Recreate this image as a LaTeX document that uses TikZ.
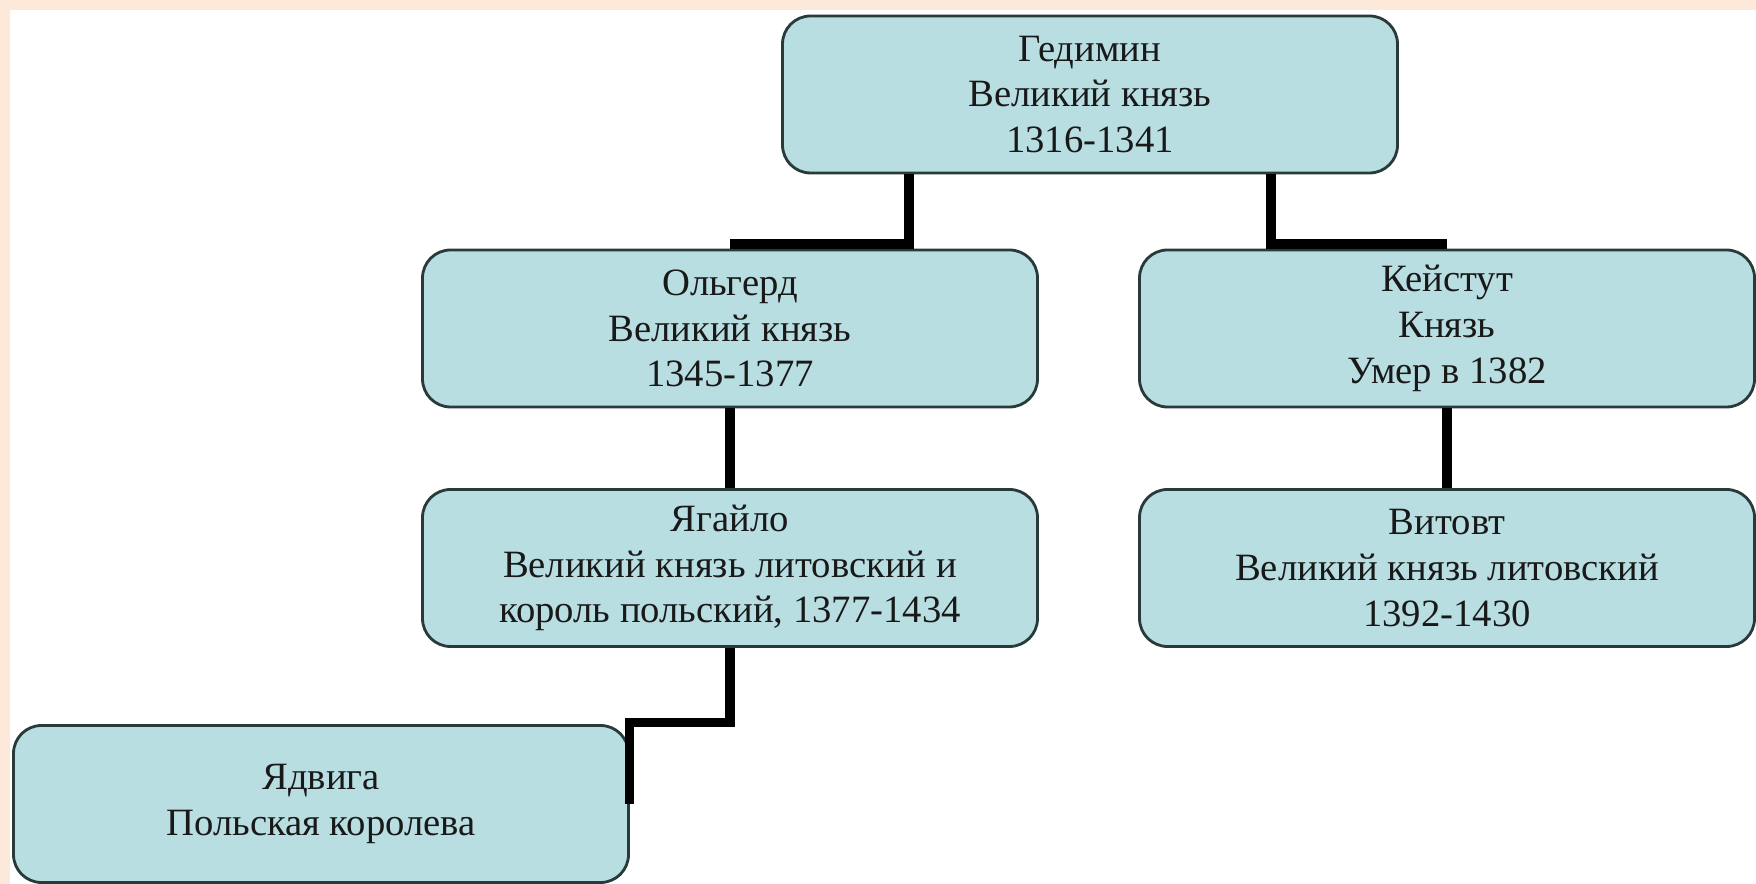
\documentclass[tikz,border=0pt]{standalone}
\usepackage{fontspec}
\setmainfont{Liberation Serif}
\usepackage{xcolor}
\definecolor{peach}{RGB}{252,233,218}
\definecolor{paleteal}{RGB}{185,222,226}
\definecolor{darkslate}{RGB}{40,58,58}
\newcommand{\boxw}{6.15}
\newcommand{\boxh}{1.57}
\newcommand{\armx}{1.81}

\begin{document}
\begin{tikzpicture}[every node/.style={inner sep=0},
        person/.style={draw=darkslate,line width=0.8pt,fill=paleteal,rounded corners=0.28cm,
            minimum width=\boxw cm,minimum height=\boxh cm,align=center,
            font=\fontsize{11}{13}\selectfont,text=black!90},
        link/.style={line width=2.6pt,line join=miter}]
        
        % frame
        \fill[peach] (0,0) rectangle (17.56,8.84);
        \fill[white] (0.10,0) rectangle (17.56,8.74);
        \useasboundingbox (0,0) rectangle (17.56,8.84);
        
        \node[person] (gedimin) at (10.90,7.895) {Гедимин\\Великий князь\\1316-1341};
        \node[person] (olgerd) at (7.30,5.555) {Ольгерд\\Великий князь\\1345-1377};
        \node[person] (keistut) at (14.47,5.555) {Кейстут\\Князь\\Умер в 1382};
        \node[person] (jagailo) at (7.30,3.16) {Ягайло\\Великий князь литовский и\\король польский, 1377-1434};
        \node[person] (vitovt) at (14.47,3.16) {Витовт\\Великий князь литовский\\1392-1430};
        \node[person] (jadwiga) at (3.21,0.80) {Ядвига\\Польская королева};
        
        \draw[link] ([xshift=-\armx cm]gedimin.south) |- ([yshift=1.3pt]olgerd.north); % left son
        \draw[link] ([xshift=\armx cm]gedimin.south) |- ([yshift=1.3pt]keistut.north); % right son
        \draw[link] (olgerd.south) -- (jagailo.north);
        \draw[link] (keistut.south) -- (vitovt.north);
        \draw[link] (jagailo.south) |- ([yshift=0.4pt]jadwiga.north east) -- (jadwiga.east);
        
    \end{tikzpicture}
\end{document}
